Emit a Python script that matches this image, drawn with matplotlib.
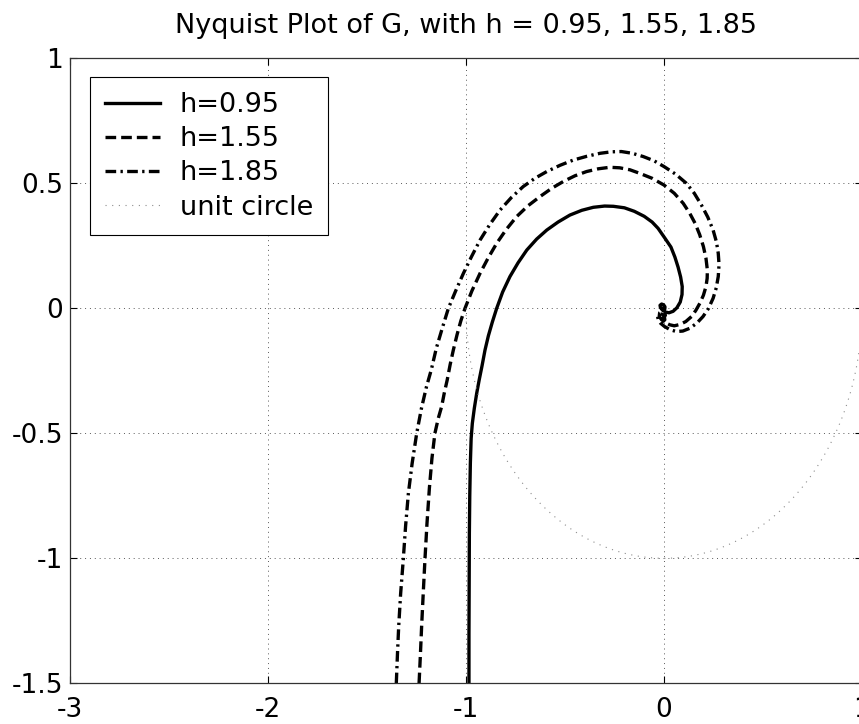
import numpy as np
import matplotlib
matplotlib.use("Agg")
import matplotlib.pyplot as plt
from matplotlib import rcParams

rcParams["font.family"] = "DejaVu Sans"
rcParams["axes.unicode_minus"] = False
fontSize = 19

h095_re = [-0.985, -0.985, -0.984, -0.983, -0.981, -0.978, -0.974, -0.968, -0.958, -0.946,
           -0.933, -0.919, -0.904, -0.887, -0.867, -0.845, -0.815, -0.778, -0.737, -0.693,
           -0.643, -0.592, -0.535, -0.475, -0.415, -0.357, -0.300, -0.256, -0.200, -0.150,
           -0.100, -0.060, -0.030, 0.005, 0.035, 0.055, 0.071, 0.084, 0.092, 0.091,
           0.082, 0.065, 0.046, 0.025, 0.008, -0.008, -0.018, -0.020, -0.012, -0.002,
           0.005, 0.004, -0.004, -0.008]
h095_im = [-1.50, -1.30, -1.10, -0.90, -0.75, -0.62, -0.52, -0.46, -0.40, -0.34,
           -0.285, -0.23, -0.167, -0.11, -0.055, 0.000, 0.065, 0.127, 0.182, 0.233,
           0.277, 0.313, 0.345, 0.373, 0.392, 0.404, 0.409, 0.408, 0.402, 0.388,
           0.368, 0.345, 0.320, 0.280, 0.245, 0.205, 0.165, 0.125, 0.087, 0.055,
           0.025, 0.002, -0.012, -0.018, -0.015, -0.007, 0.003, 0.012, 0.017, 0.014,
           0.006, -0.003, -0.006, -0.001]

h155_re = [-1.237, -1.230, -1.224, -1.216, -1.207, -1.197, -1.185, -1.172, -1.157, -1.140,
           -1.123, -1.110, -1.095, -1.080, -1.064, -1.045, -1.026, -1.005, -0.970, -0.929,
           -0.889, -0.845, -0.797, -0.744, -0.687, -0.626, -0.567, -0.509, -0.450, -0.391,
           -0.332, -0.274, -0.224, -0.172, -0.123, -0.060, 0.000, 0.052, 0.097, 0.130,
           0.157, 0.180, 0.199, 0.212, 0.219, 0.218, 0.212, 0.199, 0.181, 0.161,
           0.139, 0.110, 0.079, 0.052, 0.029, 0.006, -0.013, -0.024, -0.022, -0.010,
           0.003, 0.007, 0.000, -0.007]
h155_im = [-1.50, -1.38, -1.27, -1.14, -1.00, -0.86, -0.72, -0.60, -0.50, -0.44,
           -0.393, -0.34, -0.287, -0.225, -0.167, -0.105, -0.05, 0.000, 0.07, 0.14,
           0.20, 0.26, 0.315, 0.367, 0.41, 0.447, 0.48, 0.507, 0.53, 0.547,
           0.558, 0.564, 0.562, 0.554, 0.54, 0.52, 0.493, 0.46, 0.42, 0.38,
           0.34, 0.295, 0.247, 0.20, 0.153, 0.12, 0.087, 0.052, 0.02, -0.008,
           -0.033, -0.053, -0.065, -0.07, -0.066, -0.057, -0.045, -0.032, -0.018, -0.012,
           -0.018, -0.028, -0.036, -0.032]

h185_re = [-1.352, -1.346, -1.340, -1.330, -1.317, -1.305, -1.291, -1.272, -1.249, -1.225,
           -1.200, -1.175, -1.150, -1.120, -1.089, -1.052, -1.013, -0.972, -0.929, -0.880,
           -0.828, -0.771, -0.711, -0.652, -0.592, -0.525, -0.458, -0.390, -0.323, -0.265,
           -0.215, -0.160, -0.105, -0.050, 0.000, 0.058, 0.113, 0.153, 0.189, 0.221,
           0.248, 0.265, 0.274, 0.278, 0.274, 0.264, 0.248, 0.225, 0.197, 0.165,
           0.130, 0.095, 0.063, 0.032, 0.003, -0.017, -0.029, -0.032, -0.022, -0.008,
           0.002, 0.004, -0.004, -0.011]
h185_im = [-1.50, -1.38, -1.273, -1.14, -1.007, -0.87, -0.74, -0.62, -0.50, -0.40,
           -0.315, -0.245, -0.16, -0.08, 0.000, 0.07, 0.14, 0.207, 0.273, 0.335,
           0.393, 0.443, 0.487, 0.52, 0.547, 0.572, 0.593, 0.608, 0.62, 0.626,
           0.627, 0.62, 0.607, 0.59, 0.567, 0.537, 0.50, 0.46, 0.413, 0.365,
           0.313, 0.265, 0.22, 0.175, 0.127, 0.082, 0.04, 0.000, -0.033, -0.06,
           -0.08, -0.091, -0.093, -0.086, -0.073, -0.06, -0.047, -0.033, -0.022, -0.024,
           -0.034, -0.046, -0.052, -0.047]

# only the lower half of the unit circle shows up
circle_deg = np.linspace(180, 360, 91)

xticks = [-3, -2, -1, 0, 1]
xticklabels = ["-3", "-2", "-1", "0", "1"]
yticks = [-1.5, -1, -0.5, 0, 0.5, 1]
yticklabels = ["-1.5", "-1", "-0.5", "0", "0.5", "1"]

fig = plt.figure(figsize=(8.59, 7.24), dpi=100)
ax = fig.add_axes([70/859, 40.7/724, 792/859, 625/724])

lw = 2.4
ax.plot(h095_re, h095_im, "k-", lw=lw, label="h=0.95")
ax.plot(h155_re, h155_im, "k", lw=lw, dashes=(3.2, 1.5), label="h=1.55")
ax.plot(h185_re, h185_im, "k", lw=lw, dashes=(3.2, 1.3, 0.7, 1.3), label="h=1.85")
ax.plot(np.cos(np.deg2rad(circle_deg)), np.sin(np.deg2rad(circle_deg)),
        color="0.55", lw=0.8, linestyle=(0, (1, 5)), label="unit circle")

ax.set_xlim(-3, 1)
ax.set_ylim(-1.5, 1)
ax.set_xticks(xticks)
ax.set_xticklabels(xticklabels)
ax.set_yticks(yticks)
ax.set_yticklabels(yticklabels)
ax.tick_params(direction="in", top=True, right=True, length=5, width=0.8,
               labelsize=fontSize)
ax.tick_params(axis="x", pad=10)
ax.tick_params(axis="y", pad=5)
ax.grid(True, color="0.35", lw=0.7, linestyle=(0, (1, 4)))
for s in ax.spines.values():
    s.set_color("0.2")
    s.set_linewidth(0.9)

ax.set_title("Nyquist Plot of G, with h = 0.95, 1.55, 1.85", fontsize=19.5, pad=18)

leg = ax.legend(loc="upper left", bbox_to_anchor=(20/792, (683.3-77.3)/625),
                borderaxespad=0, fontsize=19.5, fancybox=False, framealpha=1,
                edgecolor="k", handlelength=2.05, handletextpad=0.72,
                borderpad=0.55, labelspacing=0.3)
leg.get_frame().set_linewidth(0.8)

plt.savefig("out.png", dpi=100)
